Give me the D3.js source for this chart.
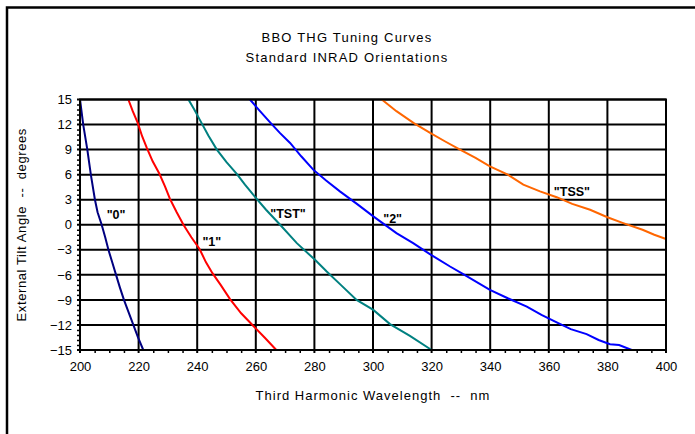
<!DOCTYPE html>
<html>
<head>
<meta charset="utf-8">
<script src="https://cdn.jsdelivr.net/npm/d3@7"></script>
<style>
  html, body { margin: 0; padding: 0; overflow: hidden; background: #fff; }
  svg { display: block; overflow: hidden; font-family: "Liberation Sans", Arial, sans-serif; }
</style>
</head>
<body>
<svg id="chart" width="695" height="434"></svg>
<script>
/*
 * BBO THG Tuning Curves
 * Winkel (Grad) gegen Wellenlänge (nm).
 */

// Kurven: [Wellenlänge nm, Kippwinkel Grad]
var curve0 = [[200.0,15],[201.1,12],[202.5,9],[203.7,6],[205.1,3],[206.0,1.5],[207.4,0],
  [208.6,-1.5],[209.7,-3],[211.0,-4.5],[212.3,-6],[213.6,-7.5],[215.0,-9],[216.6,-10.5],
  [218.2,-12],[219.8,-13.5],[221.6,-15]];

var curve1 = [[216.5,15],[218.0,13.6],[219.7,12.2],[221.2,10.6],[222.8,9.2],[224.8,7.6],
  [227.1,6.1],[229.0,4.6],[230.7,3.1],[233.0,1.5],[235.3,0],[238.0,-1.5],[240.8,-2.9],
  [243.0,-4.5],[245.2,-5.8],[248.0,-7.2],[251.2,-8.9],[255.0,-10.6],[259.1,-12.1],
  [263.0,-13.5],[267.0,-15]];

var curveTST = [[237.0,15],[239.0,13.8],[241.0,12.5],[243.8,10.7],[246.7,9.0],[250.0,7.5],
  [253.5,6.1],[256.3,4.8],[259.1,3.6],[263.5,1.8],[268.3,0],[274.0,-2.2],[280.2,-4.2],
  [284.2,-5.6],[289.0,-7.2],[294.4,-9.0],[300.1,-10.2],[305.8,-11.9],[312.6,-13.3],[320.0,-15]];

var curve2 = [[258.0,15],[261.2,13.7],[264.8,12.3],[268.2,11.0],[271.7,9.8],[275.5,8.2],
  [279.6,6.6],[284.0,5.3],[288.7,4.0],[294.5,2.5],[300.1,1.0],[308.0,-1.0],[313.7,-2.2],
  [319.8,-3.6],[326.3,-5.0],[330.8,-5.9],[339.9,-7.8],[346.0,-8.8],[352.5,-9.8],
  [357.5,-10.8],[362.7,-11.7],[367.5,-12.5],[372.9,-13.1],[377.0,-13.8],[380.9,-14.3],
  [384.0,-14.4],[388.3,-15]];

var curveTSS = [[303.0,15],[308.0,13.6],[313.8,12.2],[319.5,11.0],[324.5,10.0],[329.7,9.0],
  [335.0,8.0],[339.9,7.0],[346.0,6.0],[351.3,4.8],[357.0,4.0],[362.7,3.3],[368.0,2.5],
  [374.1,1.8],[380.0,0.9],[385.4,0.2],[392.0,-0.6],[396.0,-1.2],[400.0,-1.7]];

var seriesNames = ['"0"', '"1"', '"TST"', '"2"', '"TSS"'];
var seriesColors = ["#000080", "#ff0000", "#008080", "#0000ff", "#ff6600"];
// Wo die Beschriftung steht (Datenkoordinaten)
var labelPoints = [[212.3,0.7],[245.0,-2.6],[271.0,0.85],[306.7,0.25],[367.9,3.47]];

var xTicks = d3.range(200, 401, 20);
var yTicks = d3.range(-15, 16, 3);

var titleLines = ["BBO THG Tuning Curves", "Standard INRAD Orientations"];
var xTitle = "Third Harmonic Wavelength  --  nm";
var yTitle = "External Tilt Angle  --  degrees";

var svg = d3.select("#chart");

// Rahmen um das ganze Diagramm: nur links und oben sichtbar
svg.append("path")
  .attr("d", "M7,434V7.5H695")
  .attr("fill", "none").attr("stroke", "#000").attr("stroke-width", 2.5);

var x = d3.scaleLinear().domain([200, 400]).range([80, 666]);
var y = d3.scaleLinear().domain([-15, 15]).range([350, 99.5]);

// Titel
svg.selectAll(".title").data(titleLines).enter().append("text")
  .attr("class", "title")
  .attr("x", 347).attr("y", function(d, i){ return 42 + i * 20; })
  .attr("text-anchor", "middle")
  .attr("font-size", 13).attr("letter-spacing", 1.2)
  .text(function(d){ return d; });

// Gitter
var grid = svg.append("g").attr("stroke", "#000").attr("stroke-width", 2);
grid.selectAll(".vx").data(xTicks).enter().append("line")
  .attr("x1", function(d){ return x(d); }).attr("x2", function(d){ return x(d); })
  .attr("y1", y(15)).attr("y2", y(-15) + 3);
grid.selectAll(".hy").data(yTicks).enter().append("line")
  .attr("x1", x(200) - 3).attr("x2", x(400))
  .attr("y1", function(d){ return y(d); }).attr("y2", function(d){ return y(d); });

// Nebenstriche
var xMinor = d3.range(200, 401, 5).filter(function(d){ return d % 20 != 0; });
var yMinor = d3.range(0, 51).map(function(i){ return -15 + i * 0.6; })
  .filter(function(d){ return Math.abs(d / 3 - Math.round(d / 3)) > 0.01; });

svg.append("g")
  .attr("transform", "translate(0," + y(-15) + ")")
  .call(d3.axisBottom(x).tickValues(xMinor).tickSize(3).tickFormat(""))
  .call(function(g){ g.select(".domain").remove(); })
  .selectAll("line").attr("stroke-width", 1.5);

svg.append("g")
  .attr("transform", "translate(" + x(200) + ",0)")
  .call(d3.axisLeft(y).tickValues(yMinor).tickSize(3).tickFormat(""))
  .call(function(g){ g.select(".domain").remove(); })
  .selectAll("line").attr("stroke-width", 1.5);

// Achsenbeschriftungen
var xAxis = svg.append("g")
  .attr("transform", "translate(0," + (y(-15) + 9) + ")")
  .call(d3.axisBottom(x).tickValues(xTicks).tickSize(0).tickFormat(d3.format("d")));
xAxis.select(".domain").remove();
xAxis.selectAll("text").attr("font-size", 13).attr("fill", "#000")
  .attr("font-family", "Liberation Sans, Arial, sans-serif");

var yAxis = svg.append("g")
  .attr("transform", "translate(" + (x(200) - 5) + ",0)")
  .call(d3.axisLeft(y).tickValues(yTicks).tickSize(0).tickFormat(d3.format("d")));
yAxis.select(".domain").remove();
yAxis.selectAll("text").attr("font-size", 13).attr("fill", "#000")
  .attr("font-family", "Liberation Sans, Arial, sans-serif");

svg.append("text")
  .attr("x", (x(200) + x(400)) / 2).attr("y", 400)
  .attr("text-anchor", "middle")
  .attr("font-size", 13).attr("letter-spacing", 1)
  .style("white-space", "pre")
  .text(xTitle);

svg.append("text")
  .attr("transform", "translate(26," + ((y(15) + y(-15)) / 2) + ") rotate(-90)")
  .attr("text-anchor", "middle")
  .attr("font-size", 13).attr("letter-spacing", 0.6)
  .style("white-space", "pre")
  .text(yTitle);

// Kurven
var curves = [curve0, curve1, curveTST, curve2, curveTSS];
var line = d3.line()
  .x(function(d){ return x(d[0]); })
  .y(function(d){ return y(d[1]); });

svg.append("g").selectAll("path").data(curves).enter().append("path")
  .attr("d", line)
  .attr("fill", "none")
  .attr("stroke", function(d, i){ return seriesColors[i]; })
  .attr("stroke-width", 2);

// Rahmen der Zeichenfläche
svg.append("rect")
  .attr("x", x(200)).attr("y", y(15))
  .attr("width", x(400) - x(200)).attr("height", y(-15) - y(15))
  .attr("fill", "none").attr("stroke", "#000").attr("stroke-width", 2);

// Kurvennamen
svg.selectAll(".lbl").data(seriesNames).enter().append("text")
  .attr("class", "lbl")
  .attr("x", function(d, i){ return x(labelPoints[i][0]); })
  .attr("y", function(d, i){ return y(labelPoints[i][1]); })
  .attr("text-anchor", "middle")
  .attr("font-size", 12.5).attr("font-weight", "bold")
  .text(function(d){ return d; });
</script>
</body>
</html>
